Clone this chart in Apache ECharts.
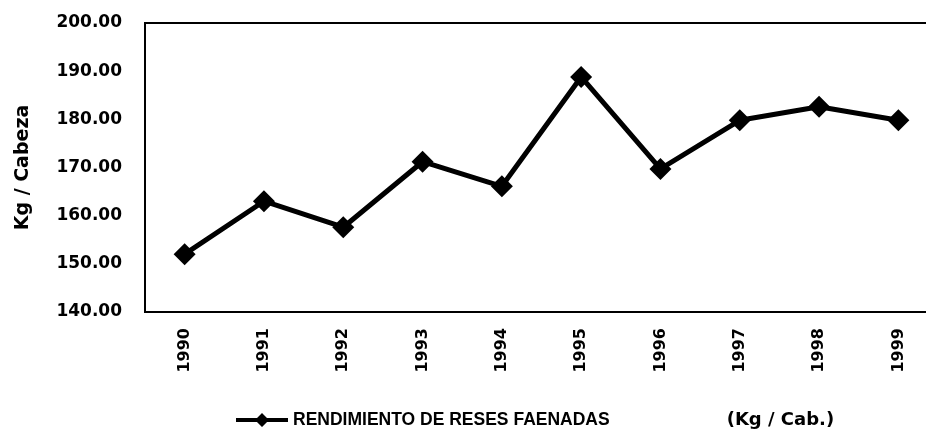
<!DOCTYPE html>
<html><head><meta charset="utf-8">
<script src="https://cdn.jsdelivr.net/npm/echarts@6/dist/echarts.min.js"></script>
<style>html,body{margin:0;padding:0;background:#fff;overflow:hidden}#c{width:938px;height:432px}</style>
</head><body><div id="c"></div>
<script>
const years = ['1990','1991','1992','1993','1994','1995','1996','1997','1998','1999'];
const rendimiento = [152.0, 163.0, 157.6, 171.2, 166.1, 188.8, 169.7, 179.8, 182.6, 179.8];
const seriesName = 'RENDIMIENTO DE RESES FAENADAS';
const unitLabel = '(Kg / Cab.)';
const yMin = 140, yMax = 200, yStep = 10;

const font = '"Liberation Sans", Arial, sans-serif';
const dvs = '"DejaVu Sans", sans-serif';
const diamond = 'path://M0,-10L10,0L0,10L-10,0Z';
const legendIcon = 'path://M0,5L52,5L52,9L0,9Z M26,0L33,7L26,14L19,7Z';
const chart = echarts.init(document.getElementById('c'));
chart.setOption({
  animation: false,
  backgroundColor: '#fff',
  grid: { left: 145, top: 23, bottom: 120, right: 0, show: true, borderColor: '#000', borderWidth: 2, backgroundColor: 'transparent' },
  xAxis: {
    type: 'category', data: years, boundaryGap: true,
    axisLine: { lineStyle: { color: '#000', width: 2 } },
    axisTick: { show: false },
    axisLabel: { rotate: 90, margin: 16, color: '#000', fontFamily: dvs, fontWeight: 'bold', fontSize: 16 }
  },
  yAxis: {
    type: 'value', min: yMin, max: yMax, interval: yStep,
    name: 'Kg / Cabeza', nameLocation: 'middle', nameGap: 112,
    nameTextStyle: { color: '#000', fontFamily: dvs, fontWeight: 'bold', fontSize: 19 },
    axisLine: { show: true, lineStyle: { color: '#000', width: 2 } },
    axisTick: { show: false },
    splitLine: { show: false },
    axisLabel: { margin: 23, color: '#000', fontFamily: dvs, fontWeight: 'bold', fontSize: 17,
      formatter: v => v.toFixed(2) }
  },
  legend: {
    top: 411, left: 236, padding: 0, itemWidth: 52, itemHeight: 14, itemGap: 2,
    data: [{ name: seriesName, icon: legendIcon }],
    formatter: n => '{a|' + n + '}{b|' + unitLabel + '}',
    textStyle: { color: '#000', fontFamily: font, fontWeight: 'bold', fontSize: 17.5,
      rich: { a: { fontFamily: font, fontWeight: 'bold', fontSize: 17.5, color: '#000' },
              b: { fontFamily: dvs, fontWeight: 'bold', fontSize: 18, color: '#000', padding: [0, 0, 0, 117] } } }
  },
  series: [{
    name: seriesName, type: 'line', data: rendimiento,
    symbol: diamond, symbolSize: 22,
    lineStyle: { color: '#000', width: 5 },
    itemStyle: { color: '#000' }
  }]
});
</script></body></html>
